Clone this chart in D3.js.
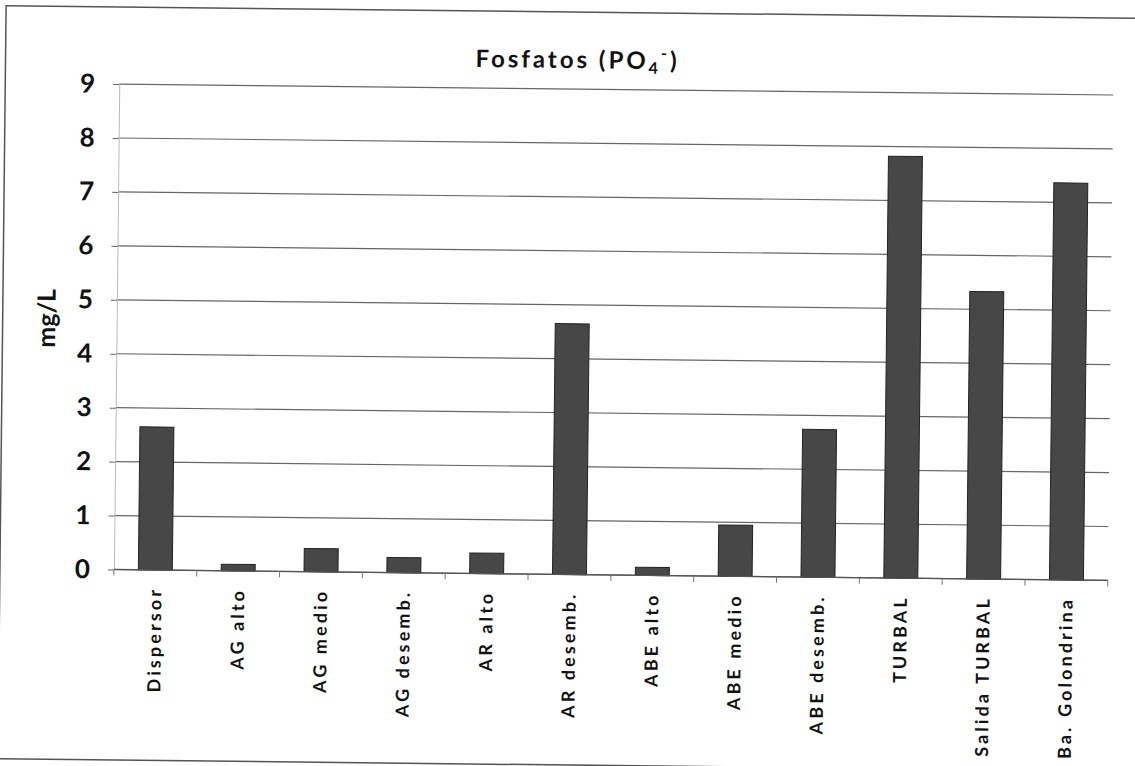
<!DOCTYPE html>
<html>
<head>
<meta charset="utf-8">
<script src="https://cdn.jsdelivr.net/npm/d3@7"></script>
<style>
body { margin: 0; background: #fff; }
svg { display: block; font-family: Lato, "Open Sans", sans-serif; }
</style>
</head>
<body>
<script>
const categories = ["Dispersor", "AG alto", "AG medio", "AG desemb.", "AR alto", "AR desemb.",
    "ABE alto", "ABE medio", "ABE desemb.", "TURBAL", "Salida TURBAL", "Ba. Golondrina"];
const values = [2.65, 0.12, 0.43, 0.28, 0.38, 4.65, 0.15, 0.95, 2.74, 7.82, 5.33, 7.36];
const yTicks = [0, 1, 2, 3, 4, 5, 6, 7, 8, 9];

const chartDimensions = {
    height: 766,
    width: 1135,
    tilt: 0.63, // the scan is a little crooked
    plot: {
        top: 89,
        left: 116,
        bottom: 574.5,
        right: 1110,
    }
}
const plot = chartDimensions.plot;

let svg = d3.select("body")
    .append("svg")
    .attr("height", chartDimensions.height)
    .attr("width", chartDimensions.width);

let g = svg.append("g")
    .attr("transform", `rotate(${chartDimensions.tilt},${chartDimensions.width/2},${chartDimensions.height/2})`);

// outer frame
g.append("rect")
    .attr("x", 2)
    .attr("y", 12)
    .attr("width", 1160)
    .attr("height", 753)
    .style("fill", "none")
    .style("stroke", "#555")
    .style("stroke-width", 1.5);

const x = d3.scaleBand()
    .domain(categories)
    .range([plot.left, plot.right])
    .paddingInner(0.59)
    .paddingOuter(0.295);

const y = d3.scaleLinear()
    .domain([0, 9])
    .range([plot.bottom, plot.top]);

// gridlines
g.append("g")
    .selectAll("line")
    .data(yTicks)
    .enter()
    .append("line")
    .attr("x1", plot.left)
    .attr("x2", plot.right)
    .attr("y1", d => y(d))
    .attr("y2", d => y(d))
    .style("stroke", "#666")
    .style("stroke-width", 1.2);

// y axis
let yAxis = g.append("g")
    .attr("transform", `translate(${plot.left},0)`)
    .call(d3.axisLeft(y).tickValues(yTicks).tickSize(6).tickPadding(18).tickSizeOuter(0));
yAxis.attr("font-family", null);
yAxis.select(".domain").style("stroke", "#bbb");
yAxis.selectAll(".tick line").style("stroke", "#666");
yAxis.selectAll(".tick text")
    .style("font-family", "Lato, 'Open Sans', sans-serif")
    .style("font-size", "26px")
    .style("font-weight", "bold")
    .style("fill", "#111");

// bars
g.append("g")
    .selectAll("rect")
    .data(values)
    .enter()
    .append("rect")
    .attr("x", (d, i) => x(categories[i]))
    .attr("y", d => y(d))
    .attr("width", x.bandwidth())
    .attr("height", d => y(0) - y(d))
    .style("fill", "#474747")
    .style("stroke", "#222")
    .style("stroke-width", 1);

// x axis baseline and ticks between categories
g.append("line")
    .attr("x1", plot.left)
    .attr("x2", plot.right)
    .attr("y1", y(0))
    .attr("y2", y(0))
    .style("stroke", "#555")
    .style("stroke-width", 1.3);

const boundaries = d3.range(categories.length + 1).map(i => plot.left + i * x.step());
g.append("g")
    .selectAll("line")
    .data(boundaries)
    .enter()
    .append("line")
    .attr("x1", d => d)
    .attr("x2", d => d)
    .attr("y1", y(0))
    .attr("y2", y(0) + 6)
    .style("stroke", "#777");

g.append("g")
    .selectAll("text")
    .data(categories)
    .enter()
    .append("text")
    .attr("transform", d => `translate(${x(d) + x.bandwidth()/2},${y(0) + 17}) rotate(-90)`)
    .attr("dy", "0.35em")
    .attr("text-anchor", "end")
    .style("font-size", "18px")
    .style("font-weight", "bold")
    .style("letter-spacing", "3.1px")
    .style("fill", "#111")
    .text(d => d);

// y axis title
g.append("text")
    .attr("transform", "translate(46,324) rotate(-90)")
    .attr("dy", "0.35em")
    .attr("text-anchor", "middle")
    .style("font-size", "25px")
    .style("font-weight", "bold")
    .style("fill", "#111")
    .text("mg/L");

// chart title
let title = g.append("text")
    .attr("x", 574)
    .attr("y", 68)
    .attr("text-anchor", "middle")
    .style("font-size", "24px")
    .style("font-weight", "bold")
    .style("letter-spacing", "3px")
    .style("fill", "#111");
title.append("tspan").text("Fosfatos (PO");
title.append("tspan").attr("dy", 5).style("font-size", "16px").text("4");
title.append("tspan").attr("dy", -15).style("font-size", "16px").text("-");
title.append("tspan").attr("dy", 10).text(")");
</script>
</body>
</html>
